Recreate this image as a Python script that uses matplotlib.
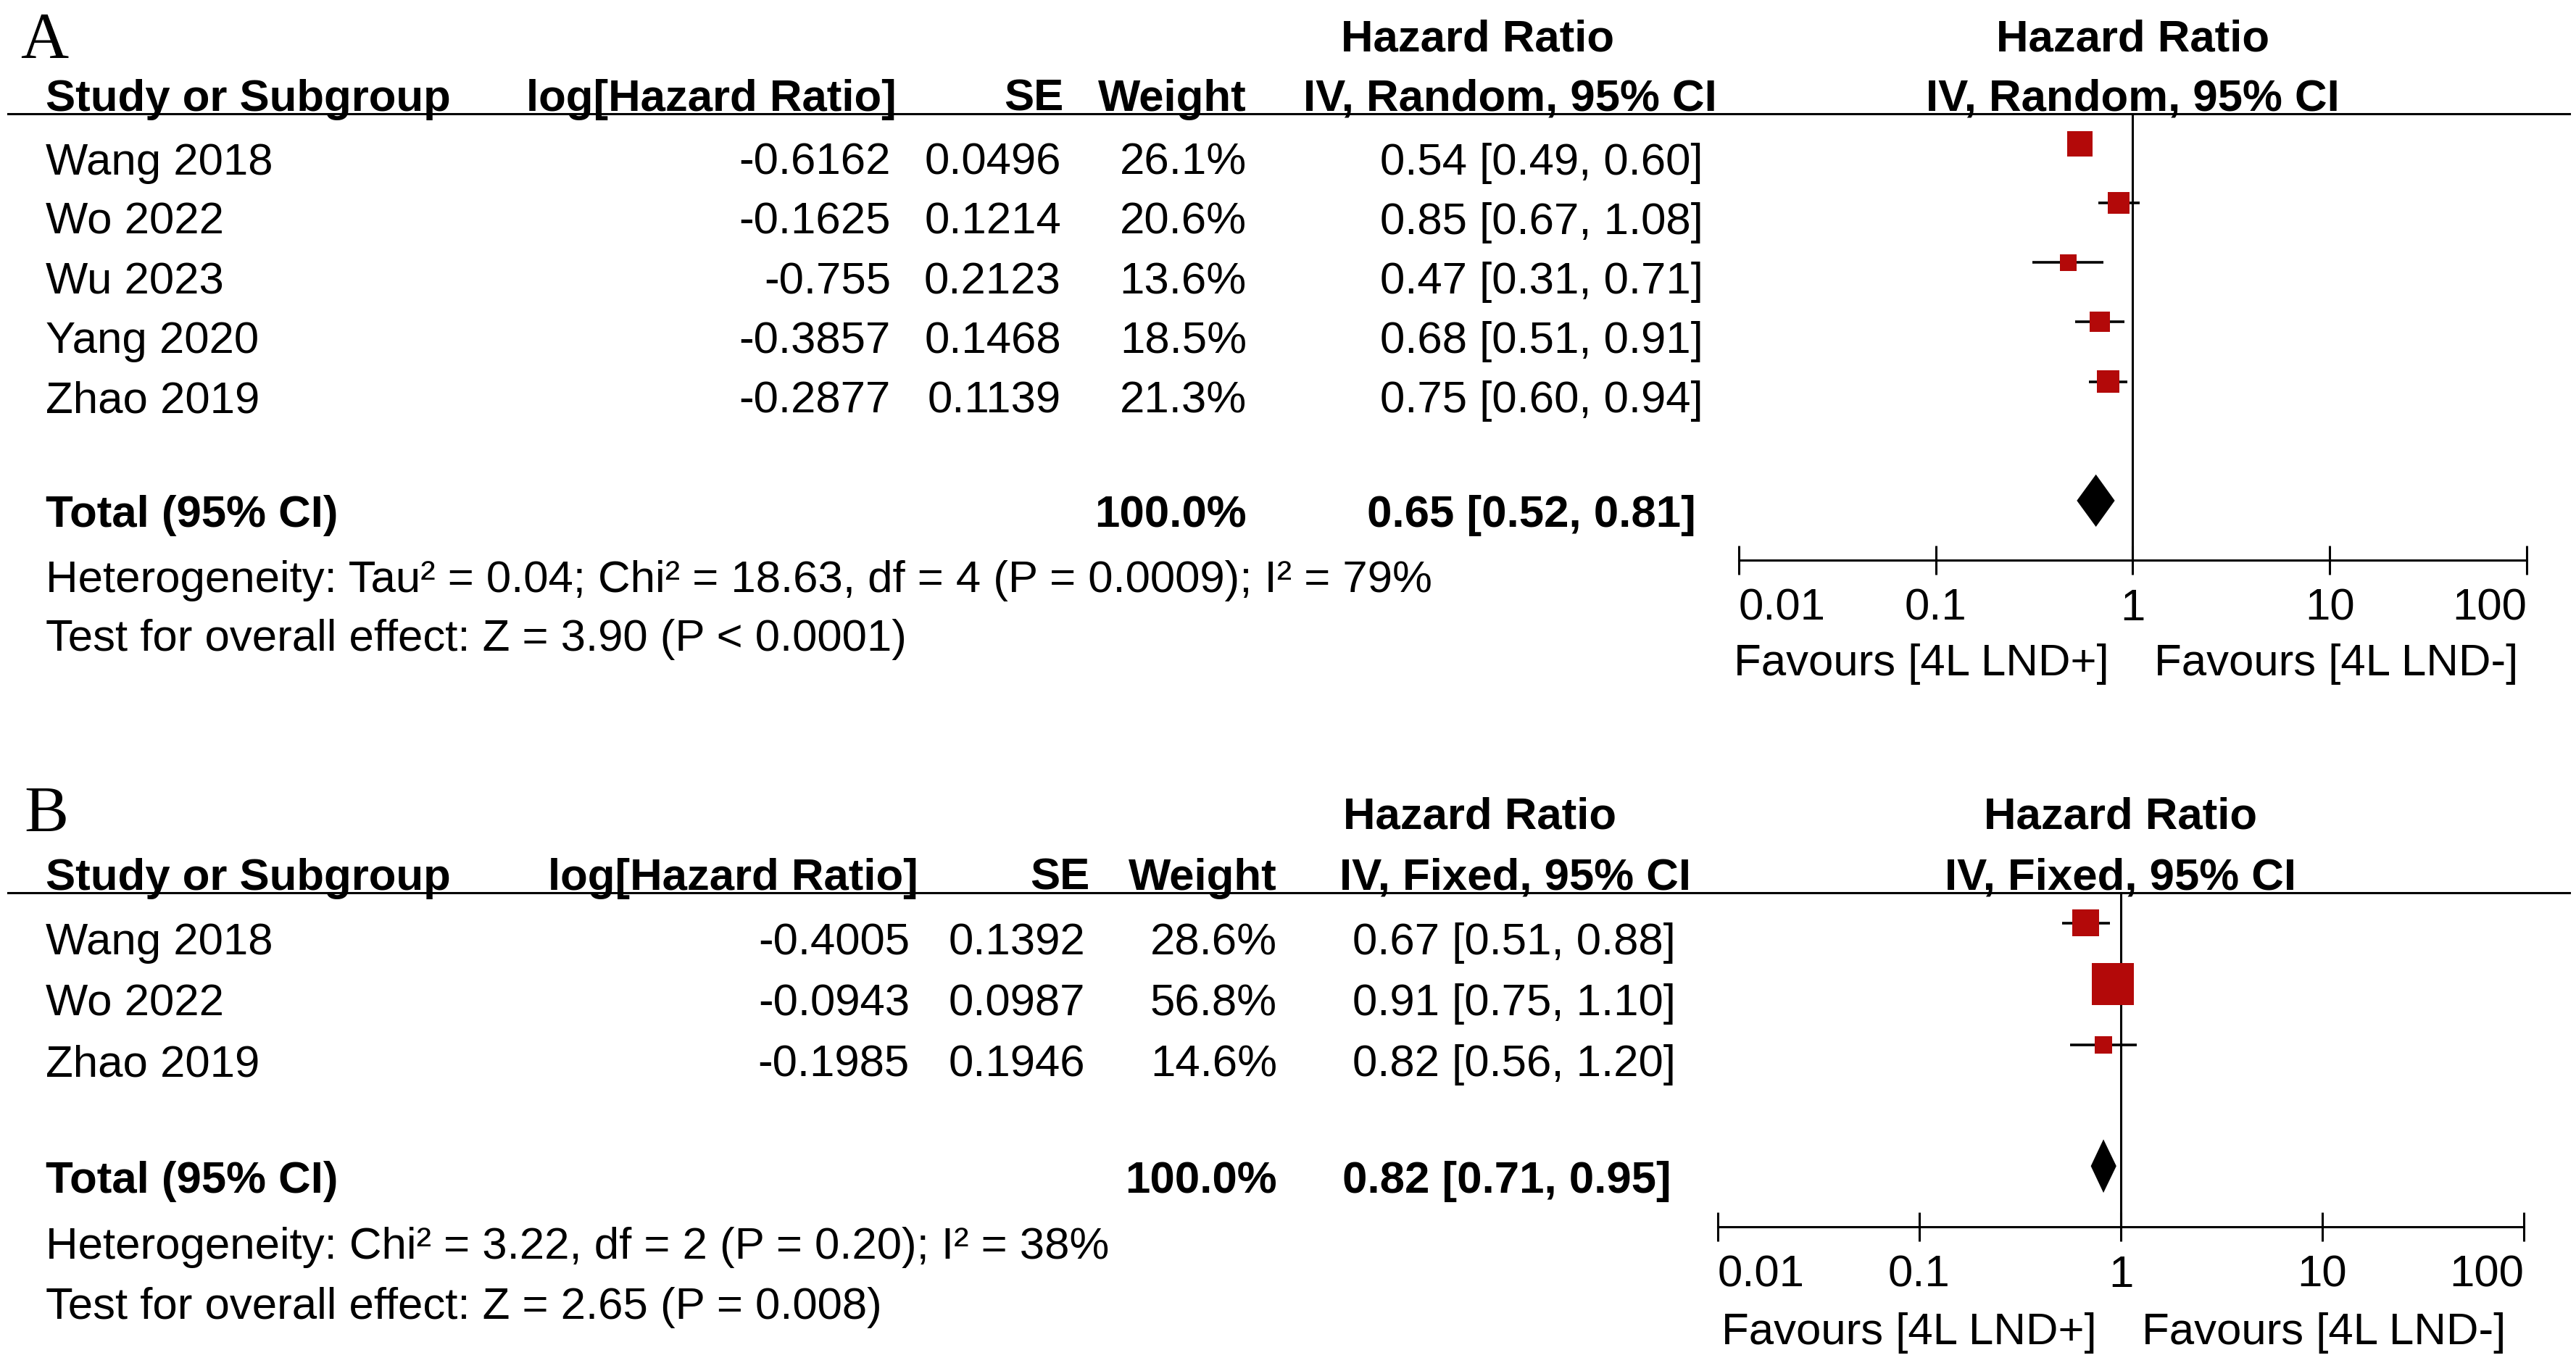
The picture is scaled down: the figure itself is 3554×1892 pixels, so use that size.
import matplotlib.pyplot as plt
from matplotlib import transforms
from matplotlib.ticker import NullLocator

W, H = 3555, 1892
plt.rcParams['font.family'] = ['Liberation Sans', 'DejaVu Sans']
plt.rcParams['font.size'] = 44.5

# panel A (random effects)
studies_a = ['Wang 2018', 'Wo 2022', 'Wu 2023', 'Yang 2020', 'Zhao 2019']
loghr_a = ['-0.6162', '-0.1625', '-0.755', '-0.3857', '-0.2877']
se_a = ['0.0496', '0.1214', '0.2123', '0.1468', '0.1139']
weight_a = [26.1, 20.6, 13.6, 18.5, 21.3]
hr_a = [0.54, 0.85, 0.47, 0.68, 0.75]
lo_a = [0.49, 0.67, 0.31, 0.51, 0.60]
hi_a = [0.60, 1.08, 0.71, 0.91, 0.94]
total_a = [0.65, 0.52, 0.81]
total_weight_a = 100.0
het_a = 'Heterogeneity: Tau² = 0.04; Chi² = 18.63, df = 4 (P = 0.0009); I² = 79%'
test_a = 'Test for overall effect: Z = 3.90 (P < 0.0001)'

# panel B (fixed effects)
studies_b = ['Wang 2018', 'Wo 2022', 'Zhao 2019']
loghr_b = ['-0.4005', '-0.0943', '-0.1985']
se_b = ['0.1392', '0.0987', '0.1946']
weight_b = [28.6, 56.8, 14.6]
hr_b = [0.67, 0.91, 0.82]
lo_b = [0.51, 0.75, 0.56]
hi_b = [0.88, 1.10, 1.20]
total_b = [0.82, 0.71, 0.95]
total_weight_b = 100.0
het_b = 'Heterogeneity: Chi² = 3.22, df = 2 (P = 0.20); I² = 38%'
test_b = 'Test for overall effect: Z = 2.65 (P = 0.008)'

ticks = [0.01, 0.1, 1, 10, 100]
tick_labels = ['0.01', '0.1', '1', '10', '100']

RED = '#B30909'
LW = 2.2

fig = plt.figure(figsize=(W / 100, H / 100), dpi=100)


def fx(px):
    return px / W


def panel(letter, names, loghr, se, weight, hr, lo, hi, total, total_w, het, test, method, lay):
    n = len(names)
    ax = fig.add_axes([fx(lay['x0']), 1 - lay['axis'] / H,
                       fx(lay['x1'] - lay['x0']), (lay['axis'] - lay['top']) / H])
    ax.set_xscale('log')
    ax.set_xlim(0.01, 100)
    ax.set_ylim(n + 2, -0.5)
    ax.set_yticks([])
    for s in ['top', 'left', 'right']:
        ax.spines[s].set_visible(False)
    ax.spines['bottom'].set_linewidth(LW)
    ax.set_xticks(ticks)
    ax.set_xticklabels(tick_labels)
    ax.xaxis.set_minor_locator(NullLocator())
    ax.tick_params(axis='x', direction='inout', length=29.5, width=LW, pad=13, labelsize=44.5)
    tl = ax.get_xticklabels()
    tl[0].set_ha('left')
    tl[-1].set_ha('right')

    rows = list(range(n))
    ax.axvline(1, color='black', lw=LW, zorder=1)
    ax.hlines(rows, lo, hi, color='black', lw=2.6, zorder=2)
    sizes = [(4.2 * w ** 0.65 * 0.72) ** 2 for w in weight]
    ax.scatter(hr, rows, s=sizes, marker='s', color=RED, linewidths=0, zorder=3)
    t, tlo, thi = total
    ax.fill([tlo, t, thi, t], [n + 1, n + 1 - 0.44, n + 1, n + 1 + 0.44],
            color='black', lw=0, zorder=3)

    tr = transforms.blended_transform_factory(fig.transFigure, ax.transData)
    ax.plot([fx(11), fx(3545)], [-0.5, -0.5], color='black', lw=LW,
            transform=tr, clip_on=False)

    bold = dict(fontweight='bold', va='baseline', transform=tr)
    h1, h2 = -1.55, -0.55
    ax.text(fx(lay['name']), h2, 'Study or Subgroup', ha='left', **bold)
    ax.text(fx(lay['loghr_h']), h2, 'log[Hazard Ratio]', ha='right', **bold)
    ax.text(fx(lay['se_h']), h2, 'SE', ha='right', **bold)
    ax.text(fx(lay['wt']), h2, 'Weight', ha='right', **bold)
    ax.text(fx(lay['hr_c1']), h1, 'Hazard Ratio', ha='center', **bold)
    ax.text(fx(lay['hr_c2']), h2, 'IV, %s, 95%% CI' % method, ha='center', **bold)
    ax.text(1, h1, 'Hazard Ratio', ha='center', va='baseline', fontweight='bold')
    ax.text(1, h2, 'IV, %s, 95%% CI' % method, ha='center', va='baseline', fontweight='bold')

    norm = dict(va='baseline', transform=tr)
    for i in range(n):
        y = i + 0.52
        ax.text(fx(lay['name']), y, names[i], ha='left', **norm)
        ax.text(fx(lay['loghr']), y, loghr[i], ha='right', **norm)
        ax.text(fx(lay['se']), y, se[i], ha='right', **norm)
        ax.text(fx(lay['wt']), y, '%.1f%%' % weight[i], ha='right', **norm)
        ax.text(fx(lay['hr']), y, '%.2f [%.2f, %.2f]' % (hr[i], lo[i], hi[i]), ha='right', **norm)

    yt = n + 1 + 0.44
    ax.text(fx(lay['name']), yt, 'Total (95% CI)', ha='left', **bold)
    ax.text(fx(lay['wt']), yt, '%.1f%%' % total_w, ha='right', **bold)
    ax.text(fx(lay['hr_t']), yt, '%.2f [%.2f, %.2f]' % (t, tlo, thi), ha='right', **bold)
    ax.text(fx(lay['name']), n + 2.53, het, ha='left', **norm)
    ax.text(fx(lay['name']), n + 3.52, test, ha='left', **norm)

    left_off = transforms.offset_copy(ax.transData, fig=fig, x=-24, y=0, units='points')
    right_off = transforms.offset_copy(ax.transData, fig=fig, x=21, y=0, units='points')
    ax.text(1, n + 2 + 1.93, 'Favours [4L LND+]', ha='right', va='baseline', transform=left_off)
    ax.text(1, n + 2 + 1.93, 'Favours [4L LND-]', ha='left', va='baseline', transform=right_off)

    fig.text(fx(lay['letter'][0]), 1 - lay['letter'][1] / H, letter,
             family=['Liberation Serif', 'DejaVu Serif'], fontsize=66, va='baseline')
    return ax


lay_a = dict(x0=2399, x1=3486, top=157, axis=773, name=63, loghr=1229, loghr_h=1237,
             se=1464, se_h=1467, wt=1720, hr=2350, hr_t=2340, hr_c1=2039, hr_c2=2083,
             letter=(28, 80))
lay_b = dict(x0=2370, x1=3482, top=1232, axis=1693, name=63, loghr=1255, loghr_h=1267,
             se=1497, se_h=1503, wt=1762, hr=2312, hr_t=2306, hr_c1=2042, hr_c2=2091,
             letter=(33, 1148))

panel('A', studies_a, loghr_a, se_a, weight_a, hr_a, lo_a, hi_a, total_a, total_weight_a,
      het_a, test_a, 'Random', lay_a)
panel('B', studies_b, loghr_b, se_b, weight_b, hr_b, lo_b, hi_b, total_b, total_weight_b,
      het_b, test_b, 'Fixed', lay_b)

fig.savefig('out.png', dpi=100, facecolor='white')
